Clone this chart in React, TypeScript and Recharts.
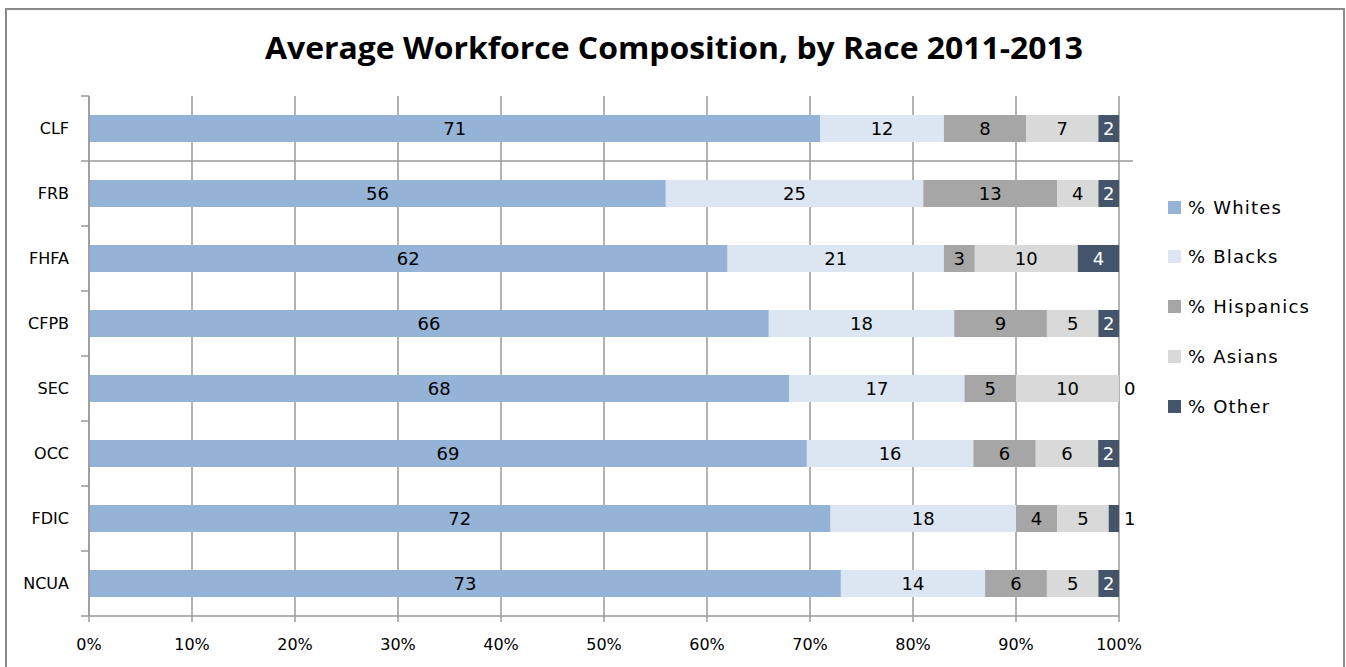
import React from 'react';
import * as R from 'recharts';
import { BarChart, Bar, XAxis, YAxis, CartesianGrid, LabelList } from 'recharts';

const categories = ['CLF', 'FRB', 'FHFA', 'CFPB', 'SEC', 'OCC', 'FDIC', 'NCUA'];
const whites = [71, 56, 62, 66, 68, 69, 72, 73];
const blacks = [12, 25, 21, 18, 17, 16, 18, 14];
const hispanics = [8, 13, 3, 9, 5, 6, 4, 6];
const asians = [7, 4, 10, 5, 10, 6, 5, 5];
const other = [2, 2, 4, 2, 0, 2, 1, 2];
const xTicks = [0, 0.1, 0.2, 0.3, 0.4, 0.5, 0.6, 0.7, 0.8, 0.9, 1];

const seriesKeys = ['whites', 'blacks', 'hispanics', 'asians', 'other'];
const seriesNames = ['% Whites', '% Blacks', '% Hispanics', '% Asians', '% Other'];
const seriesColors = ['#95B3D7', '#DCE6F2', '#A6A6A6', '#D9D9D9', '#44546A'];
const seriesValues = [whites, blacks, hispanics, asians, other];

const data = categories.map((name, i) => {
  const row: any = { name };
  seriesKeys.forEach((k, s) => {
    row[k] = seriesValues[s][i];
  });
  return row;
});

const TITLE = 'Average Workforce Composition, by Race 2011-2013';
const FONT = 'DejaVu Sans';
const GRID = '#9a9a9a';

function BoundaryTicks() {
  const hook = (R as any).usePlotArea || (R as any).useOffset;
  const area = hook ? hook() : null;
  if (!area) return null;
  const x0 = area.x ?? area.left;
  const y0 = area.y ?? area.top;
  const w = area.width;
  const h = area.height;
  if (x0 == null || y0 == null || w == null || h == null) return null;
  const n = categories.length;
  const items = [];
  for (let i = 0; i <= n; i++) {
    const y = y0 + (i * h) / n;
    const x2 = i === 1 ? x0 + w + 14 : x0;
    items.push(<line key={i} x1={x0 - 8} x2={x2} y1={y} y2={y} stroke={GRID} strokeWidth={1.5} />);
  }
  return <g>{items}</g>;
}

const outsideText = (x: number, y: number, v: number, key?: string) => (
  <text key={key} x={x} y={y} dy="0.36em" textAnchor="start" fontFamily={FONT} fontSize={18} fill="#000">
    {v}
  </text>
);

const makeLabel = (key: string) => (props: any) => {
  const { x, y, width, height, value, index } = props;
  if (value == null) return null;
  const cy = y + height / 2;
  const dark = key === 'other';
  if (dark && value <= 1) {
    return outsideText(x + width + 5, cy, value);
  }
  const main = (
    <text key="m" x={x + width / 2} y={cy} dy="0.36em" textAnchor="middle" fontFamily={FONT} fontSize={18} fill={dark ? '#ffffff' : '#000'}>
      {value}
    </text>
  );
  // a zero "Other" segment has no rectangle, so its label is placed at the end of the stack
  if (key === 'asians' && other[index] === 0) {
    return (
      <g>
        {main}
        {outsideText(x + width + 5, cy, other[index], 'z')}
      </g>
    );
  }
  return main;
};

export default function App() {
  return (
    <div style={{ position: 'absolute', left: 0, top: 0, width: 1346, height: 667, overflow: 'hidden', background: '#fff' }}>
      <div
        style={{
          position: 'absolute',
          left: 5,
          top: 8,
          width: 1340,
          height: 700,
          border: '2px solid #8a8a8a',
          boxSizing: 'border-box',
        }}
      />
      <svg style={{ position: 'absolute', left: 0, top: 0 }} width={1346} height={80}>
        <text
          x={674}
          y={59}
          textAnchor="middle"
          fontFamily="Open Sans"
          fontWeight={700}
          fontSize={30}
          fill="#000"
          textLength={818}
          lengthAdjust="spacingAndGlyphs"
        >
          {TITLE}
        </text>
      </svg>
      <div style={{ position: 'absolute', left: 0, top: 0 }}>
        <BarChart
          width={1346}
          height={667}
          data={data}
          layout="vertical"
          stackOffset="expand"
          barSize={27}
          margin={{ top: 96, right: 227, bottom: 21, left: 0 }}
        >
          <CartesianGrid horizontal={false} vertical={true} stroke={GRID} strokeWidth={1.5} />
          <XAxis
            type="number"
            domain={[0, 1]}
            ticks={xTicks}
            tickFormatter={(v: number) => `${Math.round(v * 100)}%`}
            height={30}
            tickSize={6}
            tickMargin={17}
            axisLine={{ stroke: GRID, strokeWidth: 1.5 }}
            tickLine={{ stroke: GRID, strokeWidth: 1.5 }}
            tick={{ fontFamily: FONT, fontSize: 16, fill: '#000' }}
            interval={0}
          />
          <YAxis
            type="category"
            dataKey="name"
            width={89}
            tickSize={0}
            tickMargin={20}
            tickLine={false}
            axisLine={{ stroke: GRID, strokeWidth: 1.5 }}
            tick={{ fontFamily: FONT, fontSize: 16, fill: '#000' }}
            interval={0}
          />
          {seriesKeys.map((k, s) => (
            <Bar key={k} dataKey={k} name={seriesNames[s]} stackId="a" fill={seriesColors[s]} isAnimationActive={false}>
              <LabelList dataKey={k} content={makeLabel(k)} />
            </Bar>
          ))}
          <BoundaryTicks />
        </BarChart>
      </div>
      <div style={{ position: 'absolute', left: 1168, top: 0 }}>
        {seriesNames.map((nm, s) => (
          <div
            key={nm}
            style={{
              position: 'absolute',
              left: 0,
              top: 207 + s * 49.75 - 12,
              height: 24,
              display: 'flex',
              alignItems: 'center',
              whiteSpace: 'nowrap',
              fontFamily: FONT,
              fontSize: 18,
              letterSpacing: 1.2,
              color: '#000',
            }}
          >
            <span style={{ display: 'inline-block', width: 13, height: 13, background: seriesColors[s], marginRight: 7 }} />
            <span>{nm}</span>
          </div>
        ))}
      </div>
    </div>
  );
}
